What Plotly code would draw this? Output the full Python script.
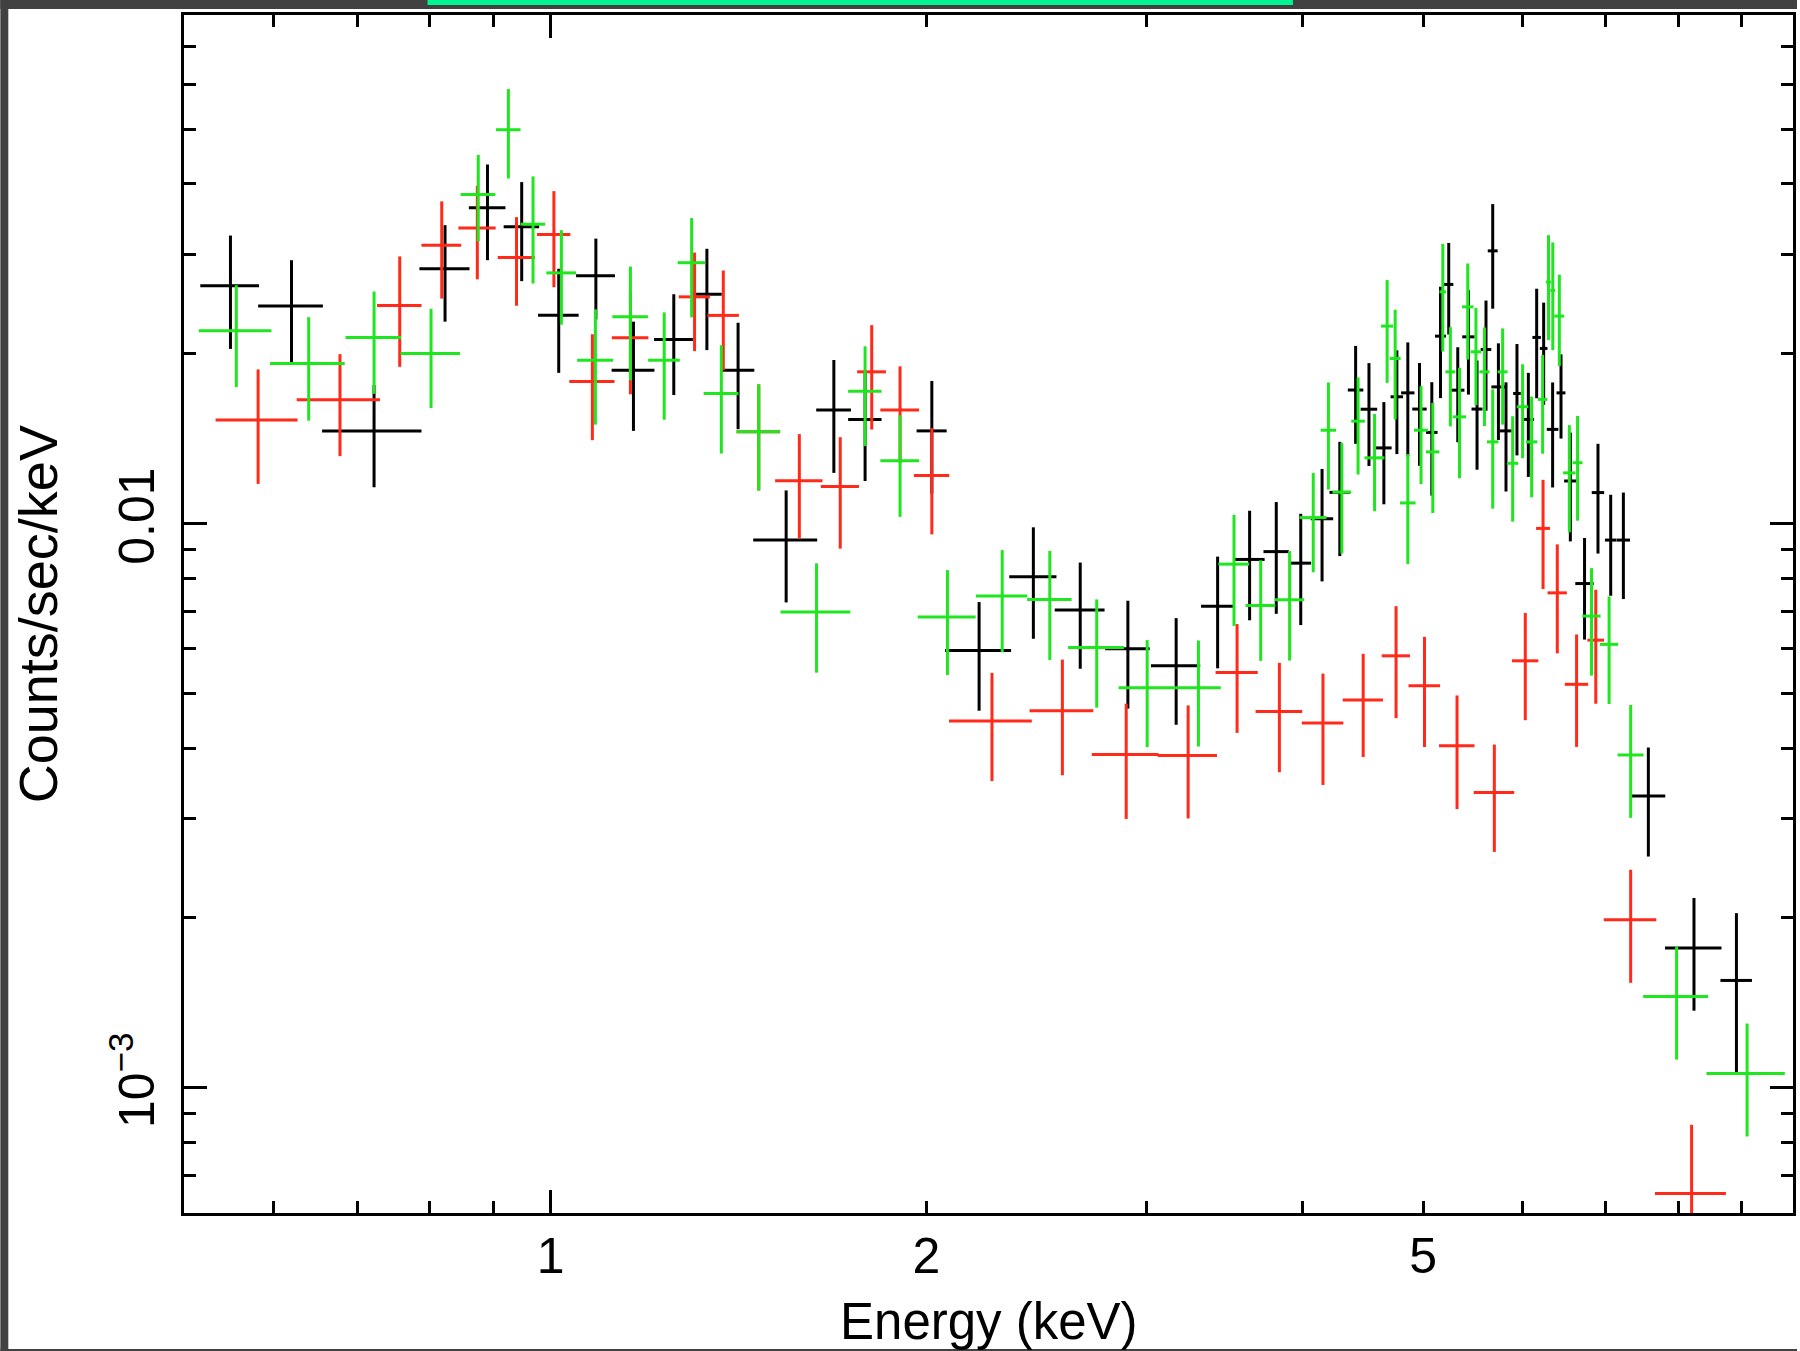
import numpy as np
import plotly.graph_objects as go

# ---------------- spectral data (keV, counts/s/keV) ----------------
# black data set
k_energy = [0.554, 0.620, 0.722, 0.823, 0.890, 0.948, 1.015, 1.087, 1.165, 1.255,
            1.334, 1.413, 1.544, 1.686, 1.786, 2.020, 2.204, 2.436, 2.656, 2.900,
            3.170, 3.422, 3.630, 3.813, 3.989, 4.149, 4.287, 4.414, 4.524, 4.650,
            4.763, 4.860, 4.966, 5.080, 5.162, 5.241, 5.329, 5.435, 5.522, 5.614,
            5.684, 5.744, 5.825, 5.944, 6.070, 6.164, 6.244, 6.348, 6.447, 6.559,
            6.733, 6.902, 7.066, 7.233, 7.574, 8.239, 8.910]
k_halfwidth = [0.030, 0.037, 0.066, 0.038, 0.030, 0.031, 0.038, 0.039, 0.046, 0.045,
               0.037, 0.043, 0.091, 0.054, 0.055, 0.056, 0.134, 0.106, 0.122, 0.119,
               0.144, 0.103, 0.102, 0.089, 0.077, 0.086, 0.081, 0.063, 0.069, 0.067,
               0.055, 0.060, 0.066, 0.054, 0.052, 0.045, 0.066, 0.062, 0.056, 0.055,
               0.052, 0.074, 0.066, 0.042, 0.065, 0.048, 0.044, 0.068, 0.053, 0.075,
               0.114, 0.079, 0.075, 0.089, 0.240, 0.429, 0.259]
k_rate = [0.0264, 0.0243, 0.0146, 0.0283, 0.0363, 0.0336, 0.0234, 0.0275, 0.0187, 0.0212,
          0.0255, 0.0187, 0.00935, 0.0159, 0.0153, 0.0146, 0.00596, 0.00805, 0.00703, 0.0060,
          0.0056, 0.00714, 0.00864, 0.00892, 0.00851, 0.0102, 0.01136, 0.01725, 0.01595, 0.01362,
          0.01678, 0.01705, 0.01596, 0.01451, 0.02149, 0.02654, 0.01724, 0.02143, 0.01596, 0.02035,
          0.03044, 0.01747, 0.0146, 0.01701, 0.0153, 0.02138, 0.02044, 0.01469, 0.01705, 0.0119,
          0.00783, 0.01135, 0.00935, 0.00935, 0.00329, 0.00177, 0.00155]
k_err = [0.0060, 0.0050, 0.0030, 0.0055, 0.0070, 0.0067, 0.0049, 0.0045, 0.0041, 0.0043,
         0.0052, 0.0040, 0.0021, 0.0036, 0.0034, 0.0033, 0.0013, 0.0018, 0.0015, 0.0013,
         0.0012, 0.0016, 0.0019, 0.0020, 0.0019, 0.0023, 0.0026, 0.0034, 0.0033, 0.0028,
         0.0035, 0.0039, 0.0033, 0.0033, 0.0048, 0.0049, 0.0033, 0.0045, 0.0035, 0.0045,
         0.0064, 0.0034, 0.0032, 0.0038, 0.0032, 0.0047, 0.0042, 0.0031, 0.0029, 0.0026,
         0.0016, 0.0025, 0.0019, 0.0020, 0.00072, 0.00040, 0.00049]

# red data set
r_energy = [0.583, 0.678, 0.757, 0.818, 0.8735, 0.939, 1.006, 1.080, 1.1585, 1.304,
            1.375, 1.468, 1.582, 1.706, 1.808, 1.905, 2.020, 2.257, 2.570, 2.891,
            3.241, 3.547, 3.835, 4.156, 4.476, 4.756, 5.012, 5.322, 5.701, 6.036,
            6.237, 6.403, 6.635, 6.874, 7.331, 8.203]
r_halfwidth = [0.044, 0.052, 0.031, 0.030, 0.030, 0.032, 0.031, 0.045, 0.039, 0.0375,
               0.040, 0.059, 0.069, 0.060, 0.048, 0.068, 0.066, 0.172, 0.151, 0.178,
               0.177, 0.138, 0.165, 0.159, 0.166, 0.124, 0.146, 0.174, 0.213, 0.147,
               0.080, 0.114, 0.143, 0.105, 0.355, 0.536]
r_rate = [0.01526, 0.01657, 0.02436, 0.03115, 0.0334, 0.02963, 0.03254, 0.01786, 0.02135, 0.02523,
          0.02339, 0.01455, 0.01191, 0.01163, 0.01858, 0.0159, 0.01217, 0.004467, 0.004661, 0.003896,
          0.003882, 0.005447, 0.004645, 0.004432, 0.004868, 0.00583, 0.005159, 0.004039, 0.003339, 0.005713,
          0.009806, 0.007538, 0.00519, 0.006215, 0.001985, 0.00065]
r_err = [0.0035, 0.0034, 0.0054, 0.0061, 0.0063, 0.0053, 0.0063, 0.0038, 0.0044, 0.0050,
         0.0047, 0.0031, 0.0025, 0.0026, 0.0039, 0.0031, 0.0026, 0.00097, 0.00108, 0.0009,
         0.00088, 0.00119, 0.00102, 0.00099, 0.00101, 0.00131, 0.00114, 0.00092, 0.00072, 0.00123,
         0.00215, 0.00165, 0.00117, 0.00142, 0.00045, 0.00021]

# green data set
g_energy = [0.560, 0.640, 0.722, 0.802, 0.875, 0.925, 0.968, 1.020, 1.086, 1.1585,
            1.233, 1.297, 1.370, 1.468, 1.633, 1.786, 1.905, 2.079, 2.300, 2.511,
            2.738, 3.005, 3.303, 3.527, 3.705, 3.908, 4.082, 4.198, 4.303, 4.434,
            4.571, 4.678, 4.748, 4.860, 4.980, 5.089, 5.184, 5.257, 5.346, 5.428,
            5.511, 5.598, 5.684, 5.789, 5.897, 6.006, 6.107, 6.232, 6.300, 6.350,
            6.427, 6.547, 6.647, 6.820, 7.045, 7.331, 7.979, 9.087]
g_halfwidth = [0.0375, 0.044, 0.037, 0.044, 0.028, 0.021, 0.022, 0.028, 0.036, 0.038,
               0.036, 0.033, 0.044, 0.059, 0.105, 0.055, 0.068, 0.111, 0.109, 0.103,
               0.141, 0.154, 0.139, 0.101, 0.102, 0.106, 0.101, 0.060, 0.074, 0.055,
               0.084, 0.052, 0.048, 0.070, 0.064, 0.063, 0.032, 0.048, 0.066, 0.058,
               0.054, 0.052, 0.060, 0.053, 0.062, 0.064, 0.065, 0.054, 0.030, 0.030,
               0.059, 0.075, 0.061, 0.115, 0.119, 0.175, 0.477, 0.655]
g_rate = [0.02196, 0.01922, 0.02138, 0.02003, 0.03832, 0.0499, 0.03394, 0.02782, 0.01948, 0.02325,
          0.01948, 0.029, 0.01701, 0.01455, 0.006973, 0.01717, 0.01292, 0.006832, 0.007445, 0.00734,
          0.006029, 0.005117, 0.005117, 0.008476, 0.00716, 0.007328, 0.01025, 0.01464, 0.01137, 0.01519,
          0.01308, 0.02239, 0.01962, 0.01088, 0.01464, 0.0134, 0.02575, 0.01858, 0.01546, 0.02422,
          0.02016, 0.01858, 0.01396, 0.01858, 0.01279, 0.01611, 0.01396, 0.0166, 0.0268, 0.0259,
          0.02332, 0.0123, 0.01282, 0.006857, 0.006109, 0.00389, 0.001452, 0.00106]
g_err = [0.0045, 0.0040, 0.0044, 0.0040, 0.0067, 0.0090, 0.0073, 0.0053, 0.0045, 0.0053,
         0.0042, 0.0058, 0.0037, 0.0031, 0.00153, 0.00345, 0.00264, 0.00144, 0.00153, 0.00161,
         0.00131, 0.0011, 0.00109, 0.00189, 0.00145, 0.00161, 0.00205, 0.00315, 0.00252, 0.00297,
         0.00256, 0.00463, 0.00432, 0.0024, 0.00289, 0.00296, 0.00557, 0.00371, 0.00343, 0.00469,
         0.00395, 0.00369, 0.00333, 0.0036, 0.00271, 0.00305, 0.00283, 0.0033, 0.00565, 0.0056,
         0.0043, 0.00265, 0.0027, 0.00148, 0.00132, 0.00088, 0.00033, 0.00024]

# axis limits and tick labels
x_lim = (0.5085, 9.89)
y_lim = (6.0e-4, 0.0797)
x_tick_vals = [1, 2, 5]
x_tick_text = ["1", "2", "5"]
x_minor_vals = [0.6, 0.7, 0.8, 0.9, 3, 4, 6, 7, 8, 9]
y_tick_vals = [0.001, 0.01]
y_tick_text = ["10<sup>\u22123</sup>", "0.01"]
y_minor_vals = [7e-4, 8e-4, 9e-4,
                0.002, 0.003, 0.004, 0.005, 0.006, 0.007, 0.008, 0.009,
                0.02, 0.03, 0.04, 0.05, 0.06, 0.07]

# ---------------- figure geometry ----------------
W, H = 1800, 1351
ML, MR, MT, MB = 184, 4, 15, 138
PW, PH = W - ML - MR, H - MT - MB
FONT = "Liberation Sans, Arial, sans-serif"
BAR_W = 3.0


def fx(px):
    """pixel column -> paper x"""
    return (px - ML) / PW


def fy(py):
    """pixel row -> paper y"""
    return (H - MB - py) / PH


def spectrum(energy, half, rate, err, color):
    return go.Scatter(
        x=energy, y=rate, mode="markers",
        marker=dict(size=2, color=color),
        error_x=dict(type="data", array=half, symmetric=True, width=0,
                     thickness=BAR_W, color=color),
        error_y=dict(type="data", array=err, symmetric=True, width=0,
                     thickness=BAR_W, color=color),
        hoverinfo="skip", showlegend=False,
    )


fig = go.Figure()
fig.add_trace(spectrum(k_energy, k_halfwidth, k_rate, k_err, "#000000"))
fig.add_trace(spectrum(r_energy, r_halfwidth, r_rate, r_err, "#ff2a1a"))
fig.add_trace(spectrum(g_energy, g_halfwidth, g_rate, g_err, "#1fe61f"))
# carrier for the long decade tick on the overlay energy axis
fig.add_trace(go.Scatter(x=[1], y=[0.01], xaxis="x2", mode="markers",
                         marker=dict(size=1, opacity=0), hoverinfo="skip",
                         showlegend=False))

x_range = [np.log10(x_lim[0]), np.log10(x_lim[1])]
y_range = [np.log10(y_lim[0]), np.log10(y_lim[1])]

fig.update_layout(
    width=W, height=H, autosize=False,
    margin=dict(l=ML, r=MR, t=MT, b=MB, pad=0),
    paper_bgcolor="white", plot_bgcolor="white",
    font=dict(family=FONT, size=50, color="black"),
    xaxis=dict(
        type="log", range=x_range, tickmode="array",
        tickvals=x_tick_vals, ticktext=x_tick_text,
        ticks="inside", ticklen=12, tickwidth=2.5, tickcolor="black",
        showline=True, linewidth=3, linecolor="black", mirror="ticks",
        showgrid=False, zeroline=False, ticklabelstandoff=-3,
        tickfont=dict(family=FONT, size=50, color="black"),
        minor=dict(tickmode="array", tickvals=x_minor_vals, ticks="inside",
                   ticklen=12, tickwidth=2.5, tickcolor="black", showgrid=False),
    ),
    xaxis2=dict(
        type="log", range=x_range, overlaying="x", anchor="y", side="bottom",
        tickmode="array", tickvals=[1], ticks="inside", ticklen=23,
        tickwidth=2.5, tickcolor="black", showticklabels=False,
        showline=False, mirror="ticks", showgrid=False, zeroline=False,
    ),
    yaxis=dict(
        type="log", range=y_range, tickmode="array",
        tickvals=y_tick_vals, ticktext=y_tick_text, tickangle=-90,
        ticks="inside", ticklen=23, tickwidth=2.5, tickcolor="black",
        showline=True, linewidth=3, linecolor="black", mirror="ticks",
        showgrid=False, zeroline=False, ticklabelstandoff=7,
        tickfont=dict(family=FONT, size=50, color="black"),
        minor=dict(tickmode="array", tickvals=y_minor_vals, ticks="inside",
                   ticklen=12, tickwidth=2.5, tickcolor="black", showgrid=False),
    ),
)

# axis titles
fig.add_annotation(text="Energy (keV)", x=0.5, y=fy(1321), xref="paper", yref="paper",
                   xanchor="center", yanchor="middle", showarrow=False,
                   font=dict(family=FONT, size=51, color="black"))
fig.add_annotation(text="Counts/sec/keV", x=fx(38), y=fy(614), xref="paper", yref="paper",
                   xanchor="center", yanchor="middle", textangle=-90, showarrow=False,
                   font=dict(family=FONT, size=54, color="black"))

# dark window frame and the accent strip along the top edge
frame_col = "#414141"
for (x0, y0, x1, y1, col) in [
    (0, 0, 8, H, frame_col),
    (0, 0, W, 9, frame_col),
    (0, H - 2, W, H, frame_col),
    (428, 0, 1295, 5, "#00f590"),
]:
    fig.add_shape(type="rect", xref="paper", yref="paper",
                  x0=fx(x0), x1=fx(x1), y0=fy(y1), y1=fy(y0),
                  line=dict(width=0), fillcolor=col, layer="above")

fig.write_html("out.html")
